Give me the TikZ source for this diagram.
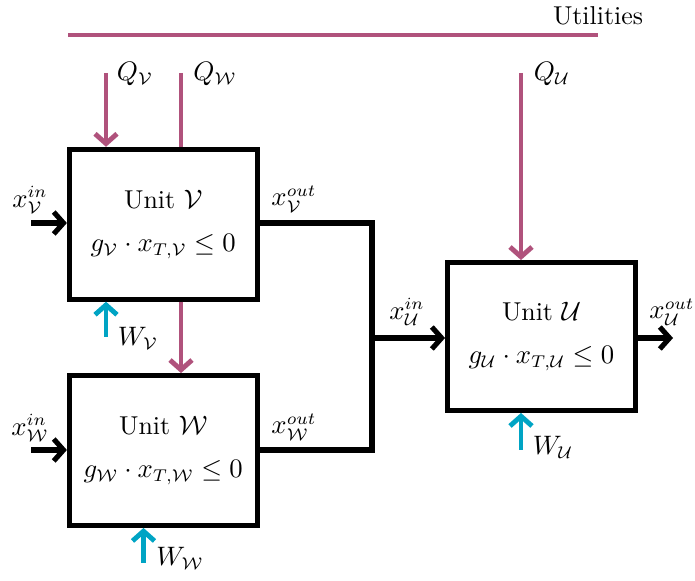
\documentclass[tikz,border=0pt]{standalone}
\usepackage{amsmath,amssymb}
\usepackage{xcolor}
\usetikzlibrary{arrows.meta, positioning}
\definecolor{utilPink}{RGB}{176,82,124}
\definecolor{waterCyan}{RGB}{0,164,196}

\begin{document}
\begin{tikzpicture}[
  x=0.41pt, y=-0.41pt,
  font=\fontsize{10.6pt}{12.7pt}\selectfont,
  unit/.style={draw, line width=2pt, fill=white, minimum width=77pt, minimum height=61.5pt, align=center, inner sep=2pt},
  arr/.style={-{Straight Barb[length=4pt, width=9pt]}},
  strm/.style={line width=2.1pt, black},
  utl/.style={line width=2pt, utilPink},
  wtr/.style={line width=2pt, waterCyan},
  lab/.style={inner sep=1pt}
]
\useasboundingbox (0,0) rectangle (695,581);

% units
\node[unit] (unitV) at (163.25,224.25) {Unit $\mathcal{V}$\\[5pt] $g_{\mathcal{V}}\cdot x_{T,\mathcal{V}}\leq 0$};
\node[unit] (unitW) at (163.25,450.5) {Unit $\mathcal{W}$\\[5pt] $g_{\mathcal{W}}\cdot x_{T,\mathcal{W}}\leq 0$};
\node[unit, minimum width=77.1pt, minimum height=60.7pt] (unitU) at (541.5,336.5) {Unit $\mathcal{U}$\\[5pt] $g_{\mathcal{U}}\cdot x_{T,\mathcal{U}}\leq 0$};

% utilities
\coordinate (utilL) at (68,35);
\coordinate (utilR) at (598,35);
\node[lab] (utilLab) at (598,16) {Utilities};
\draw[utl] (utilL) -- (utilR);

\coordinate (qV) at (106,73);
\coordinate (qW) at (181,73);
\coordinate (qU) at (521,73);
\node[lab] (qVlab) at (135,74) {$Q_{\mathcal{V}}$};
\node[lab] (qWlab) at (215,74) {$Q_{\mathcal{W}}$};
\node[lab] (qUlab) at (552,74) {$Q_{\mathcal{U}}$};
\draw[utl, arr] (qV) -- (qV |- unitV.north);
\draw[utl] (qW) -- (qW |- unitV.north);
\draw[utl, arr] (qW |- unitV.south) -- (qW |- unitW.north);
\draw[utl, arr] (qU) -- (qU |- unitU.north);

% water
\coordinate (wV) at (106,337);
\coordinate (wW) at (143.5,563);
\coordinate (wU) at (521,450);
\node[lab] (wVlab) at (138,338) {$W_{\mathcal{V}}$};
\node[lab] (wWlab) at (180,558) {$W_{\mathcal{W}}$};
\node[lab] (wUlab) at (553,447) {$W_{\mathcal{U}}$};
\draw[wtr, arr] (wV) -- (wV |- unitV.south);
\draw[wtr, arr] (wW) -- (wW |- unitW.south);
\draw[wtr, arr] (wU) -- (wU |- unitU.south);

% streams
\coordinate (xVin) at (31,223);
\coordinate (xWin) at (31,450);
\coordinate (mix) at (372,338);
\coordinate (xUout) at (673,338);
\node[lab] (xVinlab) at (30,200) {$x_{\mathcal{V}}^{in}$};
\node[lab] (xWinlab) at (30,428) {$x_{\mathcal{W}}^{in}$};
\node[lab] (xVoutlab) at (294,199) {$x_{\mathcal{V}}^{out}$};
\node[lab] (xWoutlab) at (294,427) {$x_{\mathcal{W}}^{out}$};
\node[lab] (xUinlab) at (407,312) {$x_{\mathcal{U}}^{in}$};
\node[lab] (xUoutlab) at (672,312) {$x_{\mathcal{U}}^{out}$};
\draw[strm, arr] (xVin) -- (xVin -| unitV.west);
\draw[strm, arr] (xWin) -- (xWin -| unitW.west);
\draw[strm] (xVin -| unitV.east) -- (xVin -| mix) -- (xWin -| mix) -- (xWin -| unitW.east);
\draw[strm, arr] (mix) -- (mix -| unitU.west);
\draw[strm, arr] (mix -| unitU.east) -- (xUout);
\end{tikzpicture}
\end{document}
